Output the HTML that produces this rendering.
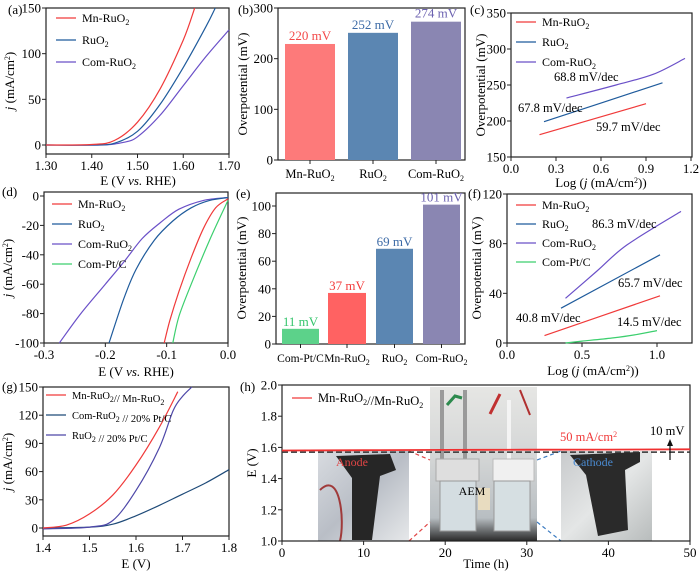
<!DOCTYPE html>
<html><head><meta charset="utf-8">
<style>
html,body{margin:0;padding:0;background:#fff;}
svg{display:block;font-family:"Liberation Serif",serif;}
</style></head>
<body>
<svg id="fig" width="700" height="572" viewBox="0 0 700 572" xmlns="http://www.w3.org/2000/svg">
<defs>
<linearGradient id="photoA" x1="0" y1="0" x2="1" y2="1"><stop offset="0" stop-color="#d8dbe0"/><stop offset="0.5" stop-color="#b9bec6"/><stop offset="1" stop-color="#e6e8ea"/></linearGradient>
<linearGradient id="photoC" x1="0" y1="0" x2="1" y2="1"><stop offset="0" stop-color="#c8cacc"/><stop offset="0.5" stop-color="#e4e6e6"/><stop offset="1" stop-color="#b8bcbc"/></linearGradient>
<linearGradient id="photoM" x1="0" y1="0" x2="0" y2="1"><stop offset="0" stop-color="#e6e6e4"/><stop offset="0.45" stop-color="#d4d6d6"/><stop offset="0.85" stop-color="#b8bec2"/><stop offset="1" stop-color="#2a2a2a"/></linearGradient>
</defs>
</svg>
<script>
// ---------- DATA ----------
const aMnX=[1.30,1.40,1.45,1.50,1.55,1.60,1.625];
const aMnY=[0,0.5,5,25,62,115,150];
const aRuX=[1.30,1.40,1.45,1.50,1.55,1.60,1.65,1.67];
const aRuY=[0,0,2,15,45,85,130,150];
const aComX=[1.30,1.42,1.47,1.50,1.55,1.60,1.65,1.70];
const aComY=[0,0,3,9,33,65,97,126];
const bCats=["Mn-RuO2","RuO2","Com-RuO2"];
const bVals=[229,251,273];
const bLabels=["220 mV","252 mV","274 mV"];
const cMnX=[0.19,0.9]; const cMnY=[181,224];
const cRuX=[0.22,1.01]; const cRuY=[199,253];
const cComX=[0.37,0.7,0.95,1.16]; const cComY=[232,250,265,287];
const dMnX=[0,-0.02,-0.04,-0.06,-0.08,-0.095,-0.104];
const dMnY=[-2,-8,-22,-42,-65,-85,-100];
const dPtX=[0,-0.03,-0.06,-0.08,-0.09];
const dPtY=[-3,-30,-60,-82,-100];
const dRuX=[0,-0.03,-0.06,-0.09,-0.12,-0.15,-0.17,-0.194];
const dRuY=[-1,-3,-8,-17,-30,-50,-70,-100];
const dComX=[0,-0.04,-0.08,-0.11,-0.14,-0.17,-0.2,-0.24,-0.275];
const dComY=[-1,-3,-9,-18,-29,-45,-60,-80,-100];
const eCats=["Com-Pt/C","Mn-RuO2","RuO2","Com-RuO2"];
const eVals=[11,37,69,101];
const eLabels=["11 mV","37 mV","69 mV","101 mV"];
const fMnX=[0.25,1.02]; const fMnY=[6,38];
const fRuX=[0.36,1.02]; const fRuY=[28,71];
const fComX=[0.39,0.6,0.8,1.16]; const fComY=[36,58,79,106];
const fPtX=[0.39,0.5,0.7,0.85,1.0]; const fPtY=[0,1.5,4,6.5,10];
const gMnX=[1.40,1.45,1.50,1.55,1.60,1.65,1.69];
const gMnY=[0,3,15,35,67,107,145];
const gRuX=[1.40,1.50,1.55,1.60,1.65,1.68,1.70,1.72];
const gRuY=[-1,1,8,40,85,125,140,150];
const gComX=[1.40,1.50,1.55,1.60,1.65,1.70,1.75,1.80];
const gComY=[0,1,4,13,24,36,48,62];
const hT=[0,10,20,30,40,50];
const hE=[1.580,1.582,1.584,1.585,1.586,1.588];
const hRef=1.57;

// ---------- HELPERS ----------
const NS="http://www.w3.org/2000/svg";
const svg=document.getElementById('fig');
const FS=13;
function el(tag,attrs,parent){const e=document.createElementNS(NS,tag);for(const k in attrs)e.setAttribute(k,attrs[k]);(parent||svg).appendChild(e);return e;}
function txt(x,y,s,attrs,parent){const t=el('text',Object.assign({x:x,y:y,'font-size':12},attrs||{}),parent);t.innerHTML=s;return t;}
function lin(d0,d1,p0,p1){return v=>p0+(v-d0)*(p1-p0)/(d1-d0);}
function frame(x0,y0,x1,y1,name){
  const r=el('rect',{x:x0,y:y0,width:x1-x0,height:y1-y0,fill:'none',stroke:'#222','stroke-width':1.2});
  
  
}
function xticks(vals,labels,sx,y,name){
  vals.forEach((v,i)=>{
    el('line',{x1:sx(v),x2:sx(v),y1:y,y2:y+4,stroke:'#222'});
    const t=txt(sx(v),y+16,labels[i],{'text-anchor':'middle','font-size':FS});
    
    
  });
}
function yticks(vals,labels,sy,x,name){
  vals.forEach((v,i)=>{
    el('line',{x1:x-4,x2:x,y1:sy(v),y2:sy(v),stroke:'#222'});
    const t=txt(x-5,sy(v)+4.5,labels[i],{'text-anchor':'end','font-size':FS});
    
    
  });
}
function series(xs,ys,sx,sy,color,name,w){
  const P=xs.map((x,i)=>[sx(x),sy(ys[i])]);
  let d='M'+P[0][0].toFixed(1)+','+P[0][1].toFixed(1);
  for(let i=0;i<P.length-1;i++){
    const p0=P[Math.max(0,i-1)],p1=P[i],p2=P[i+1],p3=P[Math.min(P.length-1,i+2)];
    const k=1/6;
    const c1=[p1[0]+(p2[0]-p0[0])*k,p1[1]+(p2[1]-p0[1])*k];
    const c2=[p2[0]-(p3[0]-p1[0])*k,p2[1]-(p3[1]-p1[1])*k];
    d+=' C'+c1.map(v=>v.toFixed(1))+' '+c2.map(v=>v.toFixed(1))+' '+p2.map(v=>v.toFixed(1));
  }
  const p=el('path',{d:d,fill:'none',stroke:color,'stroke-width':w||1.2});
  
  
}
function legend(x,y,dy,items,name,fs){
  items.forEach((it,i)=>{
    el('line',{x1:x,x2:x+20,y1:y+i*dy,y2:y+i*dy,stroke:it[1],'stroke-width':1.3});
    const t=txt(x+26,y+i*dy+4,it[0],{'font-size':fs||12});
    
    
  });
}
function panelLabel(x,y,s){const t=txt(x,y,s,{'font-size':13});}
function ylab(x,y,s,name){const t=txt(x,y,s,{'font-size':13,'text-anchor':'middle',transform:'rotate(-90 '+x+' '+y+')'});}
function xlab(x,y,s,name){const t=txt(x,y,s,{'font-size':13,'text-anchor':'middle'});}
const RO2='RuO<tspan font-size="8" dy="3">2</tspan><tspan dy="-3"></tspan>';
const RED='#f03a3a',BLUE='#1f5b9c',PUR='#6a50c8',GRN='#3ccf6e';

// ---------- (a) ----------
{const sx=lin(1.30,1.70,46,229),sy=lin(0,150,145,8);
frame(46,8,229,154,'panel-a');
xticks([1.30,1.40,1.50,1.60,1.70],['1.30','1.40','1.50','1.60','1.70'],sx,154,'panel-a');
yticks([0,50,100,150],['0','50','100','150'],sy,46,'panel-a');
series(aComX,aComY,sx,sy,PUR,'a-com-ruo2-curve');
series(aRuX,aRuY,sx,sy,BLUE,'a-ruo2-curve');
series(aMnX,aMnY,sx,sy,RED,'a-mn-ruo2-curve');
legend(56,18,22,[['Mn-'+RO2,RED],[RO2,BLUE],['Com-'+RO2,PUR]],'a');
panelLabel(8,14,'(a)');
ylab(14,81,'<tspan font-style="italic">j</tspan> (mA/cm<tspan font-size="8" dy="-4">2</tspan><tspan dy="4">)</tspan>','panel-a');
xlab(138,185,'E (V <tspan font-style="italic">vs.</tspan> RHE)','panel-a');}

// ---------- (b) ----------
{const sy=lin(0,300,160,8);
frame(278,8,465,160,'panel-b');
yticks([0,100,200,300],['0','100','200','300'],sy,278,'panel-b');
const bx=[285,348,411],bw=[50,50,50],colors=['#fd7a7a','#5b86b2','#8a86b2'],lc=['#f34848','#3c6aa6','#6c62b0'];
bCats.forEach((c,i)=>{
  const r=el('rect',{x:bx[i],y:sy(bVals[i]),width:bw[i],height:160-sy(bVals[i]),fill:colors[i]});
  
  
  const t=txt(bx[i]+25,sy(bVals[i])-4,bLabels[i],{'text-anchor':'middle','font-size':13,fill:lc[i]});
  
  
  el('line',{x1:bx[i]+25,x2:bx[i]+25,y1:160,y2:164,stroke:'#222'});
  const n=txt(bx[i]+25,178,c.replace('RuO2',RO2),{'text-anchor':'middle','font-size':12.5});
  
  
});
panelLabel(238,14,'(b)');
ylab(247,84,'Overpotential (mV)','panel-b');}

// ---------- (c) ----------
{const sx=lin(0,1.2,511,691),sy=lin(150,350,157,13);
frame(511,13,692,157,'panel-c');
xticks([0,0.3,0.6,0.9,1.2],['0.0','0.3','0.6','0.9','1.2'],sx,157,'panel-c');
yticks([150,200,250,300,350],['150','200','250','300','350'],sy,511,'panel-c');
series(cMnX,cMnY,sx,sy,RED,'c-mn-ruo2-tafel');
series(cRuX,cRuY,sx,sy,BLUE,'c-ruo2-tafel');
series(cComX,cComY,sx,sy,PUR,'c-com-ruo2-tafel');
legend(516,22,20,[['Mn-'+RO2,RED],[RO2,BLUE],['Com-'+RO2,PUR]],'c');
[[554,81,'68.8 mV/dec'],[518,112,'67.8 mV/dec'],[596,131,'59.7 mV/dec']].forEach(a=>{const t=txt(a[0],a[1],a[2],{'font-size':12.5});});
panelLabel(470,14,'(c)');
ylab(485,85,'Overpotential (mV)','panel-c');
xlab(601,187,'Log (<tspan font-style="italic">j</tspan> (mA/cm<tspan font-size="8" dy="-4">2</tspan><tspan dy="4">))</tspan>','panel-c');}

// ---------- (d) ----------
{const sx=lin(-0.3,0,44,228),sy=lin(0,-100,196,343);
frame(44,192,228,343,'panel-d');
xticks([-0.3,-0.2,-0.1,0],['-0.3','-0.2','-0.1','0.0'],sx,343,'panel-d');
yticks([0,-20,-40,-60,-80,-100],['0','-20','-40','-60','-80','-100'],sy,44,'panel-d');
series(dComX,dComY,sx,sy,PUR,'d-com-ruo2-curve');
series(dRuX,dRuY,sx,sy,BLUE,'d-ruo2-curve');
series(dPtX,dPtY,sx,sy,GRN,'d-pt-c-curve');
series(dMnX,dMnY,sx,sy,RED,'d-mn-ruo2-curve');
legend(52,204,20,[['Mn-'+RO2,RED],[RO2,BLUE],['Com-'+RO2,PUR],['Com-Pt/C',GRN]],'d');
panelLabel(2,196,'(d)');
ylab(12,268,'<tspan font-style="italic">j</tspan> (mA/cm<tspan font-size="8" dy="-4">2</tspan><tspan dy="4">)</tspan>','panel-d');
xlab(136,376,'E (V <tspan font-style="italic">vs.</tspan> RHE)','panel-d');}

// ---------- (e) ----------
{const sy=lin(0,100,344,206);
frame(276,193,465,344,'panel-e');
yticks([0,20,40,60,80,100],['0','20','40','60','80','100'],sy,276,'panel-e');
const ex=[282,328,376,423],ew=[37,38,37,37],colors=['#5cd28a','#ff6262','#5b86b2','#8a86b2'],lc=['#35c56c','#f33c3c','#3c6aa6','#6c62b0'];
eCats.forEach((c,i)=>{
  const r=el('rect',{x:ex[i],y:sy(eVals[i]),width:ew[i],height:344-sy(eVals[i]),fill:colors[i]});
  
  
  const t=txt(ex[i]+ew[i]/2,sy(eVals[i])-3,eLabels[i],{'text-anchor':'middle','font-size':13,fill:lc[i]});
  
  
  el('line',{x1:ex[i]+ew[i]/2,x2:ex[i]+ew[i]/2,y1:344,y2:348,stroke:'#222'});
  const n=txt(ex[i]+ew[i]/2,362,c.replace('RuO2',RO2),{'text-anchor':'middle','font-size':11.5});
  
  
});
panelLabel(236,198,'(e)');
ylab(246,268,'Overpotential (mV)','panel-e');}

// ---------- (f) ----------
{const sx=lin(0,1,507,657),sy=lin(0,120,343,194);
frame(507,194,692,343,'panel-f');
xticks([0,0.5,1.0],['0.0','0.5','1.0'],sx,343,'panel-f');
yticks([0,40,80,120],['0','40','80','120'],sy,507,'panel-f');
series(fMnX,fMnY,sx,sy,RED,'f-mn-ruo2-tafel');
series(fRuX,fRuY,sx,sy,BLUE,'f-ruo2-tafel');
series(fComX,fComY,sx,sy,PUR,'f-com-ruo2-tafel');
series(fPtX,fPtY,sx,sy,GRN,'f-pt-c-tafel');
legend(516,205,19,[['Mn-'+RO2,RED],[RO2,BLUE],['Com-'+RO2,PUR],['Com-Pt/C',GRN]],'f');
[[592,228,'86.3 mV/dec'],[618,287,'65.7 mV/dec'],[516,322,'40.8 mV/dec'],[617,326,'14.5 mV/dec']].forEach(a=>{const t=txt(a[0],a[1],a[2],{'font-size':12.5});});
panelLabel(468,198,'(f)');
ylab(481,268,'Overpotential (mV)','panel-f');
xlab(593,375,'Log (<tspan font-style="italic">j</tspan> (mA/cm<tspan font-size="8" dy="-4">2</tspan><tspan dy="4">))</tspan>','panel-f');}

// ---------- (g) ----------
{const sx=lin(1.4,1.8,43,229),sy=lin(0,150,528,387);
frame(43,387,229,536,'panel-g');
xticks([1.4,1.5,1.6,1.7,1.8],['1.4','1.5','1.6','1.7','1.8'],sx,536,'panel-g');
yticks([0,30,60,90,120,150],['0','30','60','90','120','150'],sy,43,'panel-g');
series(gComX,gComY,sx,sy,'#1e4a78','g-com-ruo2-pt-c-curve');
series(gRuX,gRuY,sx,sy,'#4d47a8','g-ruo2-pt-c-curve');
series(gMnX,gMnY,sx,sy,RED,'g-mn-ruo2-pair-curve');
legend(46,395,20,[['Mn-'+RO2+'// Mn-'+RO2,RED],['Com-'+RO2+' // 20% Pt/C','#1e4a78'],[RO2+' // 20% Pt/C','#4d47a8']],'g',10.5);
panelLabel(2,391,'(g)');
ylab(12,462,'<tspan font-style="italic">j</tspan> (mA/cm<tspan font-size="8" dy="-4">2</tspan><tspan dy="4">)</tspan>','panel-g');
xlab(136,568,'E (V)','panel-g');}

// ---------- (h) ----------
{const sx=lin(0,50,282,690),sy=lin(1.0,2.0,541,385);
const pa=el('g',{});
el('rect',{x:318,y:451,width:91,height:90,fill:'url(#photoA)'},pa);
el('path',{d:'M336,456 L390,454 L396,470 L380,476 L372,540 L352,540 L352,478 Z',fill:'#262626'},pa);
el('path',{d:'M320,490 C340,470 345,520 340,541',stroke:'#a03a3a','stroke-width':2,fill:'none'},pa);
txt(336,466,'Anode',{fill:'#e04545','font-size':12},pa);
const pm=el('g',{});
el('rect',{x:430,y:387,width:107,height:154,fill:'url(#photoM)'},pm);
el('rect',{x:440,y:390,width:4,height:70,fill:'#9a9a9a'},pm);
el('rect',{x:463,y:390,width:4,height:70,fill:'#9a9a9a'},pm);
el('rect',{x:507,y:400,width:4,height:60,fill:'#f4f4f4'},pm);
el('rect',{x:436,y:459,width:43,height:22,fill:'#dedede',stroke:'#aaa'},pm);
el('rect',{x:440,y:481,width:36,height:50,fill:'#d4dde1',stroke:'#999'},pm);
el('rect',{x:493,y:459,width:41,height:22,fill:'#f0f0f0',stroke:'#bbb'},pm);
el('rect',{x:494,y:481,width:36,height:50,fill:'#d6dfe2',stroke:'#999'},pm);
el('rect',{x:478,y:488,width:12,height:22,fill:'#e8dcc0'},pm);
el('path',{d:'M447,405 L455,396 L462,398',stroke:'#2d8a4e','stroke-width':3,fill:'none'},pm);
el('path',{d:'M500,394 L490,414',stroke:'#c03030','stroke-width':3,fill:'none'},pm);
el('path',{d:'M520,390 L530,415',stroke:'#b03030','stroke-width':2,fill:'none'},pm);
txt(472,495,'AEM',{'font-size':12,'text-anchor':'middle'},pm);
const pc=el('g',{});
el('rect',{x:561,y:451,width:91,height:90,fill:'url(#photoC)'},pc);
el('path',{d:'M570,455 L640,452 L640,462 L625,470 L628,530 L598,536 L586,475 Z',fill:'#2a2a2a'},pc);
txt(573,466,'Cathode',{fill:'#4a8ad0','font-size':12},pc);
[[409,451,430,460],[409,541,430,522],[537,460,561,451],[537,522,561,541]].forEach((d,i)=>{
  el('line',{x1:d[0],y1:d[1],x2:d[2],y2:d[3],stroke:i<2?'#e04545':'#3a7ac0','stroke-width':1.2,'stroke-dasharray':'4,3'});
});
frame(282,385,690,541,'panel-h');
xticks([0,10,20,30,40,50],['0','10','20','30','40','50'],sx,541,'panel-h');
yticks([1.0,1.2,1.4,1.6,1.8,2.0],['1.0','1.2','1.4','1.6','1.8','2.0'],sy,282,'panel-h');
const ref=el('line',{x1:sx(0),x2:sx(50),y1:sy(hRef),y2:sy(hRef),stroke:'#333','stroke-width':1.5,'stroke-dasharray':'6,3'});


series(hT,hE,sx,sy,'#f03030','h-stability-curve',1.8);
legend(292,398,20,[['Mn-'+RO2+'//Mn-'+RO2,RED]],'h',12.5);
const a=txt(560,441,'50 mA/cm<tspan font-size="8" dy="-4">2</tspan>',{fill:'#f03a3a','font-size':12.5});

const b=txt(650,435,'10 mV',{'font-size':12.5});

el('line',{x1:670,x2:670,y1:460,y2:443,stroke:'#111','stroke-width':1.2});
el('path',{d:'M667,446 L670,439 L673,446 Z',fill:'#111'});
panelLabel(240,391,'(h)');
ylab(256,463,'E (V)','panel-h');
xlab(486,568,'Time (h)','panel-h');}
</script>
</body></html>
